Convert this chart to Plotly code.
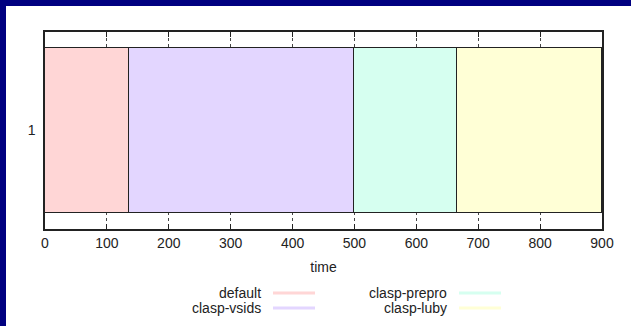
import plotly.graph_objects as go

# ---- data ----
solvers = ["default", "clasp-vsids", "clasp-prepro", "clasp-luby"]
durations = [135, 365, 165, 235]
colors = ["#ffd6d6", "#e3d6ff", "#d6fff0", "#ffffd6"]
category = [1]
x_ticks = [0, 100, 200, 300, 400, 500, 600, 700, 800, 900]

W, H = 631, 326
L, R, T, B = 45, 29, 32, 97
pw, ph = W - L - R, H - T - B

def px_x(px):
    return (px - L) / pw

def px_y(py):
    return (H - B - py) / ph

fig = go.Figure()
for name, d, c in zip(solvers, durations, colors):
    fig.add_trace(go.Bar(
        y=category, x=[d], orientation="h", name=name,
        marker=dict(color=c, line=dict(color="#222222", width=1)),
        width=1, showlegend=False,
    ))

font = dict(family="Liberation Sans, Arial, sans-serif", size=14, color="#222222")

shapes = []
annotations = []
# legend (text right-aligned, sample line to the right, like gnuplot)
cols = [(263, 273, 315), (449, 459, 501)]
rows = [293, 308]
for i, (name, c) in enumerate(zip(solvers, colors)):
    ci, ri = divmod(i, 2)
    tx, lx0, lx1 = cols[ci]
    yy = px_y(rows[ri])
    annotations.append(dict(text=name, x=px_x(tx), y=yy, xref="paper", yref="paper",
                            xanchor="right", yanchor="middle", showarrow=False, font=font))
    shapes.append(dict(type="line", xref="paper", yref="paper",
                       x0=px_x(lx0), x1=px_x(lx1), y0=yy, y1=yy,
                       line=dict(color=c, width=3)))

# navy page border (left and top)
shapes.append(dict(type="rect", xref="paper", yref="paper", layer="above",
                   x0=px_x(0), x1=px_x(6), y0=px_y(H), y1=px_y(0),
                   fillcolor="#000080", line=dict(width=0)))
shapes.append(dict(type="rect", xref="paper", yref="paper", layer="above",
                   x0=px_x(0), x1=px_x(W), y0=px_y(6), y1=px_y(0),
                   fillcolor="#000080", line=dict(width=0)))

fig.update_layout(
    width=W, height=H,
    margin=dict(l=L, r=R, t=T, b=B, pad=0),
    barmode="stack",
    bargap=0,
    plot_bgcolor="white", paper_bgcolor="white",
    font=font,
    showlegend=False,
    shapes=shapes,
    annotations=annotations,
    xaxis=dict(
        range=[0, 900], tickvals=x_ticks, ticks="inside", ticklen=5,
        tickcolor="#222222", showline=True, linecolor="#222222", linewidth=1.5,
        mirror="ticks", showgrid=True, gridcolor="#444444", griddash="dot",
        gridwidth=1, zeroline=False,
        title=dict(text="time", font=font, standoff=13),
    ),
    yaxis=dict(
        range=[0.4, 1.6], tickvals=[1], ticktext=["1"], ticks="",
        showline=True, linecolor="#222222", linewidth=1.5, mirror=True,
        showgrid=False, zeroline=False, ticklabelstandoff=5,
    ),
)

fig.write_html(
    "out.html",
    config={"displayModeBar": False},
    post_script="document.body.style.margin='0';document.body.style.overflow='hidden';",
)
